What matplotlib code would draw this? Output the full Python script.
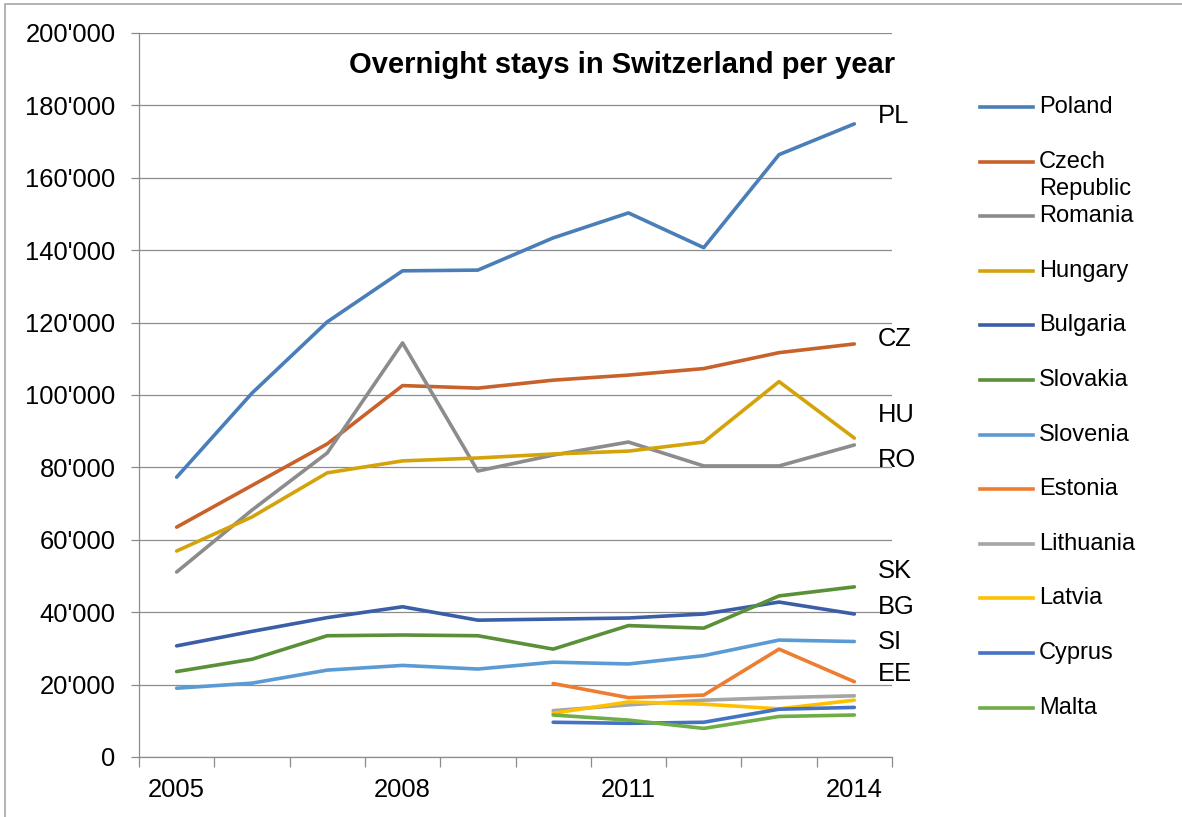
import numpy as np
import matplotlib
matplotlib.use("Agg")
import matplotlib.pyplot as plt
from matplotlib.lines import Line2D
from matplotlib.patches import Rectangle
from matplotlib.ticker import FuncFormatter

plt.rcParams['font.family'] = ['Liberation Sans', 'DejaVu Sans']

years = [2005, 2006, 2007, 2008, 2009, 2010, 2011, 2012, 2013, 2014]
nan = np.nan

poland    = [77300, 100500, 120200, 134300, 134500, 143400, 150300, 140700, 166400, 174900]
czech     = [63500, 75000, 86500, 102600, 101900, 104100, 105500, 107300, 111700, 114100]
romania   = [51100, 68200, 84000, 114400, 79000, 83400, 87000, 80400, 80400, 86200]
hungary   = [56900, 66300, 78500, 81800, 82600, 83700, 84500, 87000, 103700, 88100]
bulgaria  = [30700, 34700, 38500, 41500, 37800, 38100, 38400, 39500, 42800, 39500]
slovakia  = [23600, 27000, 33500, 33700, 33500, 29800, 36300, 35600, 44500, 47000]
slovenia  = [19000, 20400, 24000, 25300, 24300, 26200, 25700, 28000, 32300, 31900]
estonia   = [nan, nan, nan, nan, nan, 20300, 16400, 17100, 29800, 20800]
lithuania = [nan, nan, nan, nan, nan, 12800, 14400, 15700, 16400, 16900]
latvia    = [nan, nan, nan, nan, nan, 12100, 15200, 14600, 13300, 15700]
cyprus    = [nan, nan, nan, nan, nan, 9600, 9300, 9600, 13200, 13700]
malta     = [nan, nan, nan, nan, nan, 11600, 10200, 7900, 11200, 11600]

series_names = ["Poland", "Czech\nRepublic", "Romania", "Hungary", "Bulgaria", "Slovakia",
                "Slovenia", "Estonia", "Lithuania", "Latvia", "Cyprus", "Malta"]
series_values = [poland, czech, romania, hungary, bulgaria, slovakia,
                 slovenia, estonia, lithuania, latvia, cyprus, malta]
series_colors = ["#4A7EB8", "#C8622A", "#8C8C8C", "#D4A30A", "#3B5EA6", "#5A9038",
                 "#5B9BD5", "#ED7D31", "#A5A5A5", "#FFC000", "#4472C4", "#70AD47"]

end_labels = ["PL", "CZ", "RO", "HU", "BG", "SK", "SI", "EE"]
end_label_values = [177000, 115500, 82000, 94500, 41500, 51500, 31800, 23000]

W, H = 1182, 817
fig = plt.figure(figsize=(W / 100, H / 100), dpi=100)
fig.patch.set_facecolor("white")

# chart-area border (left and top visible)
fig.add_artist(Rectangle((5 / W, -0.1), 1.2, (H - 4) / H + 0.1, transform=fig.transFigure,
                         fill=False, edgecolor="#A6A6A6", linewidth=1.2))

left, right, top, bottom = 139, 892, 33, 757
ax = fig.add_axes([left / W, (H - bottom) / H, (right - left) / W, (bottom - top) / H])

x = np.arange(len(years))
for vals, col, name in zip(series_values, series_colors, series_names):
    ax.plot(x, vals, color=col, linewidth=2.6, solid_capstyle="round", label=name)

ax.set_xlim(-0.5, len(years) - 0.5)
ax.set_ylim(0, 200000)
ax.set_yticks(np.arange(0, 200001, 20000))
ax.yaxis.set_major_formatter(FuncFormatter(lambda v, p: "0" if v == 0 else f"{int(v):,}".replace(",", "'")))
ax.grid(axis="y", color="#8C8C8C", linewidth=0.9)
ax.set_axisbelow(True)

ax.set_xticks(x[::3])
ax.set_xticklabels([str(years[i]) for i in x[::3]])
ax.set_xticks(np.arange(-0.5, len(years), 1.0), minor=True)
ax.tick_params(axis="x", which="major", length=0, labelsize=18.4, pad=15)
ax.tick_params(axis="x", which="minor", length=7, color="#8C8C8C", width=0.9)
ax.tick_params(axis="y", which="major", length=6, color="#8C8C8C", width=0.9, labelsize=18.4, pad=11)

for s in ["top", "right"]:
    ax.spines[s].set_visible(False)
for s in ["left", "bottom"]:
    ax.spines[s].set_color("#8C8C8C")
    ax.spines[s].set_linewidth(0.9)

# title inside plot area
fig.text(622 / W, 1 - 65 / H, "Overnight stays in Switzerland per year", ha="center", va="center",
         fontsize=21, fontweight="bold")

# end labels
for lab, v in zip(end_labels, end_label_values):
    ax.annotate(lab, xy=(len(years) - 1, v), xycoords="data", xytext=(17, 0), textcoords="offset points",
                ha="left", va="center", fontsize=18.4, annotation_clip=False)

# legend (manual layout to mimic Excel wrapping)
y0, dy = 107, 54.6
for i, (name, col) in enumerate(zip(series_names, series_colors)):
    yc = y0 + i * dy
    fig.add_artist(Line2D([980 / W, 1033 / W], [1 - yc / H, 1 - yc / H], transform=fig.transFigure,
                          color=col, linewidth=2.6))
    if "\n" in name:
        for j, part in enumerate(name.split("\n")):
            fig.text(1039 / W, 1 - (yc + j * 27) / H, part, ha="left", va="center", fontsize=17)
    else:
        fig.text(1039 / W, 1 - yc / H, name, ha="left", va="center", fontsize=17)

fig.savefig("out.png", dpi=100)
